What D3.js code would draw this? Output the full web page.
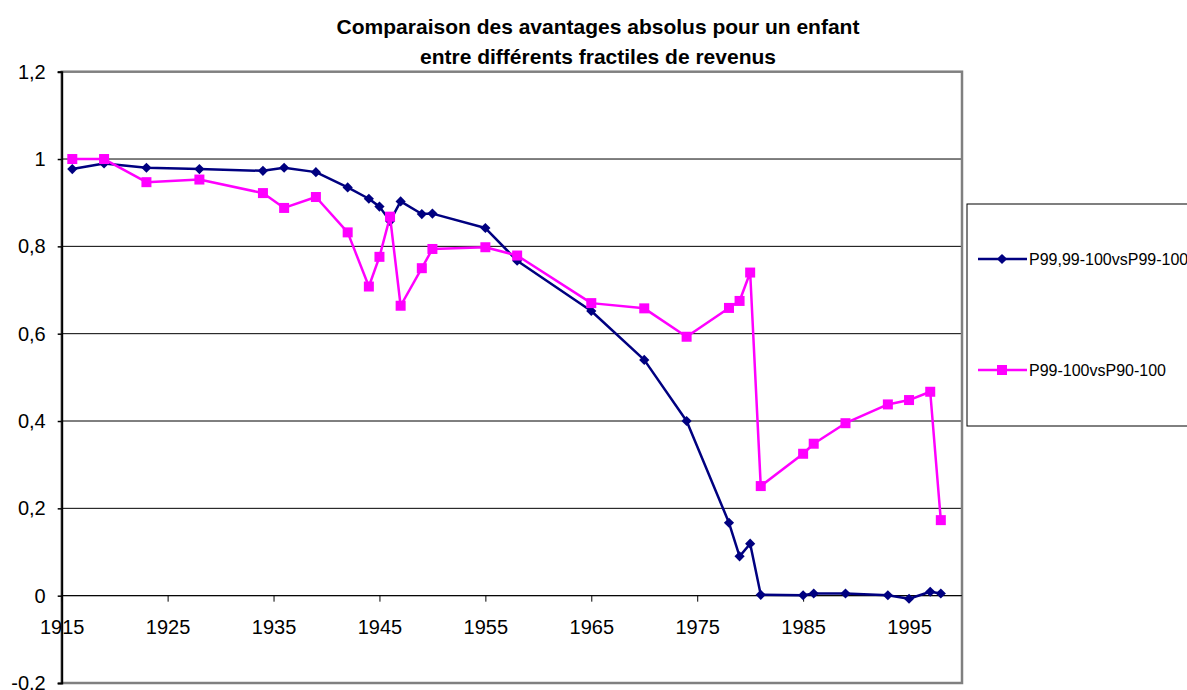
<!DOCTYPE html>
<html>
<head>
<meta charset="utf-8">
<script src="https://cdn.jsdelivr.net/npm/d3@7"></script>
<style>
  html, body { margin: 0; padding: 0; background: #fff; }
  svg { display: block; font-family: "Liberation Sans", Arial, sans-serif; }
</style>
</head>
<body>
<svg id="chart" width="1187" height="690"></svg>
<script>
// ---- data ----
const years = [1916,1919,1923,1928,1934,1936,1939,1942,1944,1945,1946,1947,1949,1950,1955,1958,1965,1970,1974,1978,1979,1980,1981,1985,1986,1989,1993,1995,1997,1998];
const seriesTop = [0.977,0.99,0.98,0.977,0.973,0.98,0.97,0.935,0.909,0.891,0.858,0.903,0.874,0.875,0.842,0.767,0.652,0.540,0.400,0.167,0.090,0.119,0.002,0.001,0.005,0.005,0.001,-0.007,0.009,0.005];
const seriesP99 = [1.0,1.0,0.947,0.953,0.922,0.888,0.913,0.832,0.708,0.776,0.868,0.664,0.750,0.794,0.798,0.779,0.670,0.658,0.593,0.659,0.675,0.740,0.251,0.325,0.348,0.395,0.438,0.448,0.467,0.173];
const seriesNames = ["P99,99-100vsP99-100", "P99-100vsP90-100"];
const xTicks = [1915,1925,1935,1945,1955,1965,1975,1985,1995];
const yTicks = [-0.2,0,0.2,0.4,0.6,0.8,1,1.2];
const yTickLabels = ["-0,2","0","0,2","0,4","0,6","0,8","1","1,2"];
const titleLines = ["Comparaison des avantages absolus pour un enfant", "entre différents fractiles de revenus"];

// ---- layout ----
const svg = d3.select("#chart");
const L = 61.7, R = 962, T = 71.7, B = 683;
const x = d3.scaleLinear().domain([1915, 2000]).range([L, R]);
const y = d3.scaleLinear().domain([-0.2, 1.2]).range([B, T]);
const colors = ["#000080", "#FF00FF"];

// title
svg.append("g").selectAll("text").data(titleLines).join("text")
  .attr("x", 598).attr("y", (d, i) => 34 + i * 30)
  .attr("text-anchor", "middle")
  .attr("font-size", 21).attr("font-weight", "bold").attr("fill", "#000")
  .text(d => d);

// gridlines
svg.append("g").selectAll("line").data(yTicks.filter(v => v > -0.2 && v < 1.2)).join("line")
  .attr("x1", L).attr("x2", R)
  .attr("y1", d => y(d)).attr("y2", d => y(d))
  .attr("stroke", "#000").attr("stroke-width", 1);

// plot border
svg.append("rect")
  .attr("x", L).attr("y", T).attr("width", R - L).attr("height", B - T)
  .attr("fill", "none").attr("stroke", "#808080").attr("stroke-width", 2.5);

// y axis
const yAxis = d3.axisLeft(y).tickValues(yTicks)
  .tickFormat((d, i) => yTickLabels[i]).tickSize(4).tickPadding(12);
const gy = svg.append("g").attr("transform", `translate(${L},0)`).call(yAxis);
gy.select(".domain").attr("stroke", "#000").attr("stroke-width", 2);
gy.selectAll(".tick line").attr("stroke", "#000").attr("stroke-width", 1.5);
gy.selectAll(".tick text").attr("font-size", 20).attr("fill", "#000")
  .attr("font-family", "Liberation Sans, Arial, sans-serif");

// x axis at y=0
const xAxis = d3.axisBottom(x).tickValues(xTicks).tickFormat(d3.format("d"))
  .tickSize(6).tickPadding(18);
const gx = svg.append("g").attr("transform", `translate(0,${y(0)})`).call(xAxis);
gx.select(".domain").remove();
gx.selectAll(".tick line").attr("stroke", "#000").attr("stroke-width", 1);
gx.selectAll(".tick text").attr("font-size", 20).attr("fill", "#000")
  .attr("font-family", "Liberation Sans, Arial, sans-serif");
svg.append("line").attr("x1", L).attr("x2", R).attr("y1", y(0)).attr("y2", y(0))
  .attr("stroke", "#000").attr("stroke-width", 1);

// series
const line = d3.line().x(d => x(d[0])).y(d => y(d[1]));
const diamond = d3.symbol().type(d3.symbolDiamond2 || d3.symbolDiamond).size(70);
const series = [seriesTop, seriesP99];

function drawMarkers(g, i, pts) {
  if (i === 0) {
    g.selectAll("path.m").data(pts).join("path").attr("class", "m")
      .attr("transform", d => `translate(${x(d[0])},${y(d[1])}) rotate(45)`)
      .attr("d", d3.symbol().type(d3.symbolSquare).size(52)())
      .attr("fill", colors[0]);
  } else {
    g.selectAll("rect.m").data(pts).join("rect").attr("class", "m")
      .attr("x", d => x(d[0]) - 5).attr("y", d => y(d[1]) - 5)
      .attr("width", 10).attr("height", 10)
      .attr("fill", colors[1]);
  }
}

series.forEach((vals, i) => {
  const pts = years.map((yr, j) => [yr, vals[j]]);
  const g = svg.append("g");
  g.append("path").datum(pts).attr("d", line)
    .attr("fill", "none").attr("stroke", colors[i]).attr("stroke-width", 2.5)
    .attr("stroke-linejoin", "round");
  drawMarkers(g, i, pts);
});

// legend
const lg = svg.append("g");
lg.append("rect").attr("x", 967).attr("y", 204).attr("width", 240).attr("height", 222)
  .attr("fill", "#fff").attr("stroke", "#000").attr("stroke-width", 1);
const legendY = [259, 370];
seriesNames.forEach((name, i) => {
  const gi = lg.append("g");
  gi.append("line").attr("x1", 978).attr("x2", 1027).attr("y1", legendY[i]).attr("y2", legendY[i])
    .attr("stroke", colors[i]).attr("stroke-width", 2.5);
  drawMarkers(gi, i, [[x.invert(1002), y.invert(legendY[i])]]);
  gi.append("text").attr("x", 1029).attr("y", legendY[i]).attr("dy", "0.36em")
    .attr("font-size", 16).attr("fill", "#000").text(name);
});
</script>
</body>
</html>
